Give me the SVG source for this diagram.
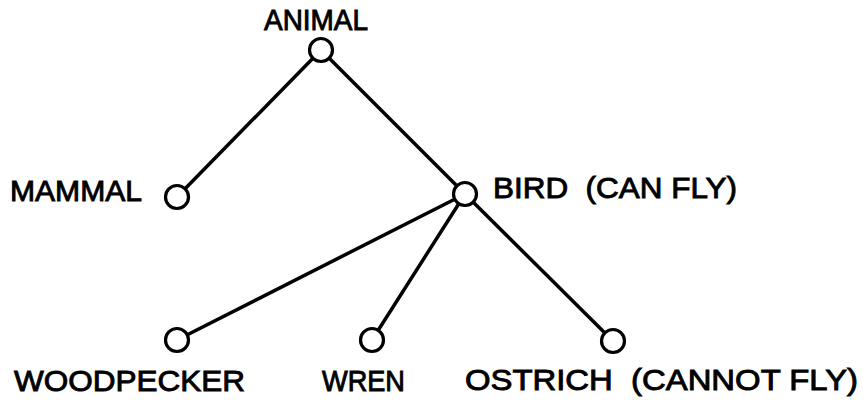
<svg xmlns="http://www.w3.org/2000/svg" width="863" height="400" viewBox="0 0 863 400">
  <style>
    .edge { stroke: #000; stroke-width: 3.5; stroke-linecap: round; fill: none; }
    .node circle { fill: #fff; stroke: #000; stroke-width: 3.2; }
    .label { font-family: "Liberation Sans", Arial, sans-serif; font-size: 29px; fill: #000; stroke: #000; stroke-width: 0.9; }
  </style>
  <rect width="863" height="400" fill="#fff"/>

  <!-- taxonomy links -->
  <g id="connectors">
    <line class="edge" x1="321" y1="50" x2="177" y2="197"/>
    <line class="edge" x1="321" y1="50" x2="465" y2="194"/>
    <line class="edge" x1="465" y1="194" x2="177" y2="340"/>
    <line class="edge" x1="465" y1="194" x2="372" y2="340"/>
    <line class="edge" x1="465" y1="194" x2="613" y2="341"/>
  </g>

  <g id="animal" class="node">
    <circle cx="321" cy="50" r="11.5"/>
    <text class="label" x="264" y="30" textLength="104" lengthAdjust="spacingAndGlyphs">ANIMAL</text>
  </g>
  <g id="mammal" class="node">
    <circle cx="177" cy="197" r="11.5"/>
    <text class="label" x="10" y="201" textLength="132" lengthAdjust="spacingAndGlyphs">MAMMAL</text>
  </g>
  <g id="bird" class="node">
    <circle cx="465" cy="194" r="11.5"/>
    <text class="label" x="493" y="198" textLength="244" lengthAdjust="spacingAndGlyphs">BIRD &#160;(CAN FLY)</text>
  </g>
  <g id="woodpecker" class="node">
    <circle cx="177" cy="340" r="11.5"/>
    <text class="label" x="14" y="391" textLength="231" lengthAdjust="spacingAndGlyphs">WOODPECKER</text>
  </g>
  <g id="wren" class="node">
    <circle cx="372" cy="340" r="11.5"/>
    <text class="label" x="322" y="391" textLength="83" lengthAdjust="spacingAndGlyphs">WREN</text>
  </g>
  <g id="ostrich" class="node">
    <circle cx="613" cy="341" r="11.5"/>
    <text class="label" x="465" y="390" textLength="393" lengthAdjust="spacingAndGlyphs">OSTRICH &#160;(CANNOT FLY)</text>
  </g>
</svg>
